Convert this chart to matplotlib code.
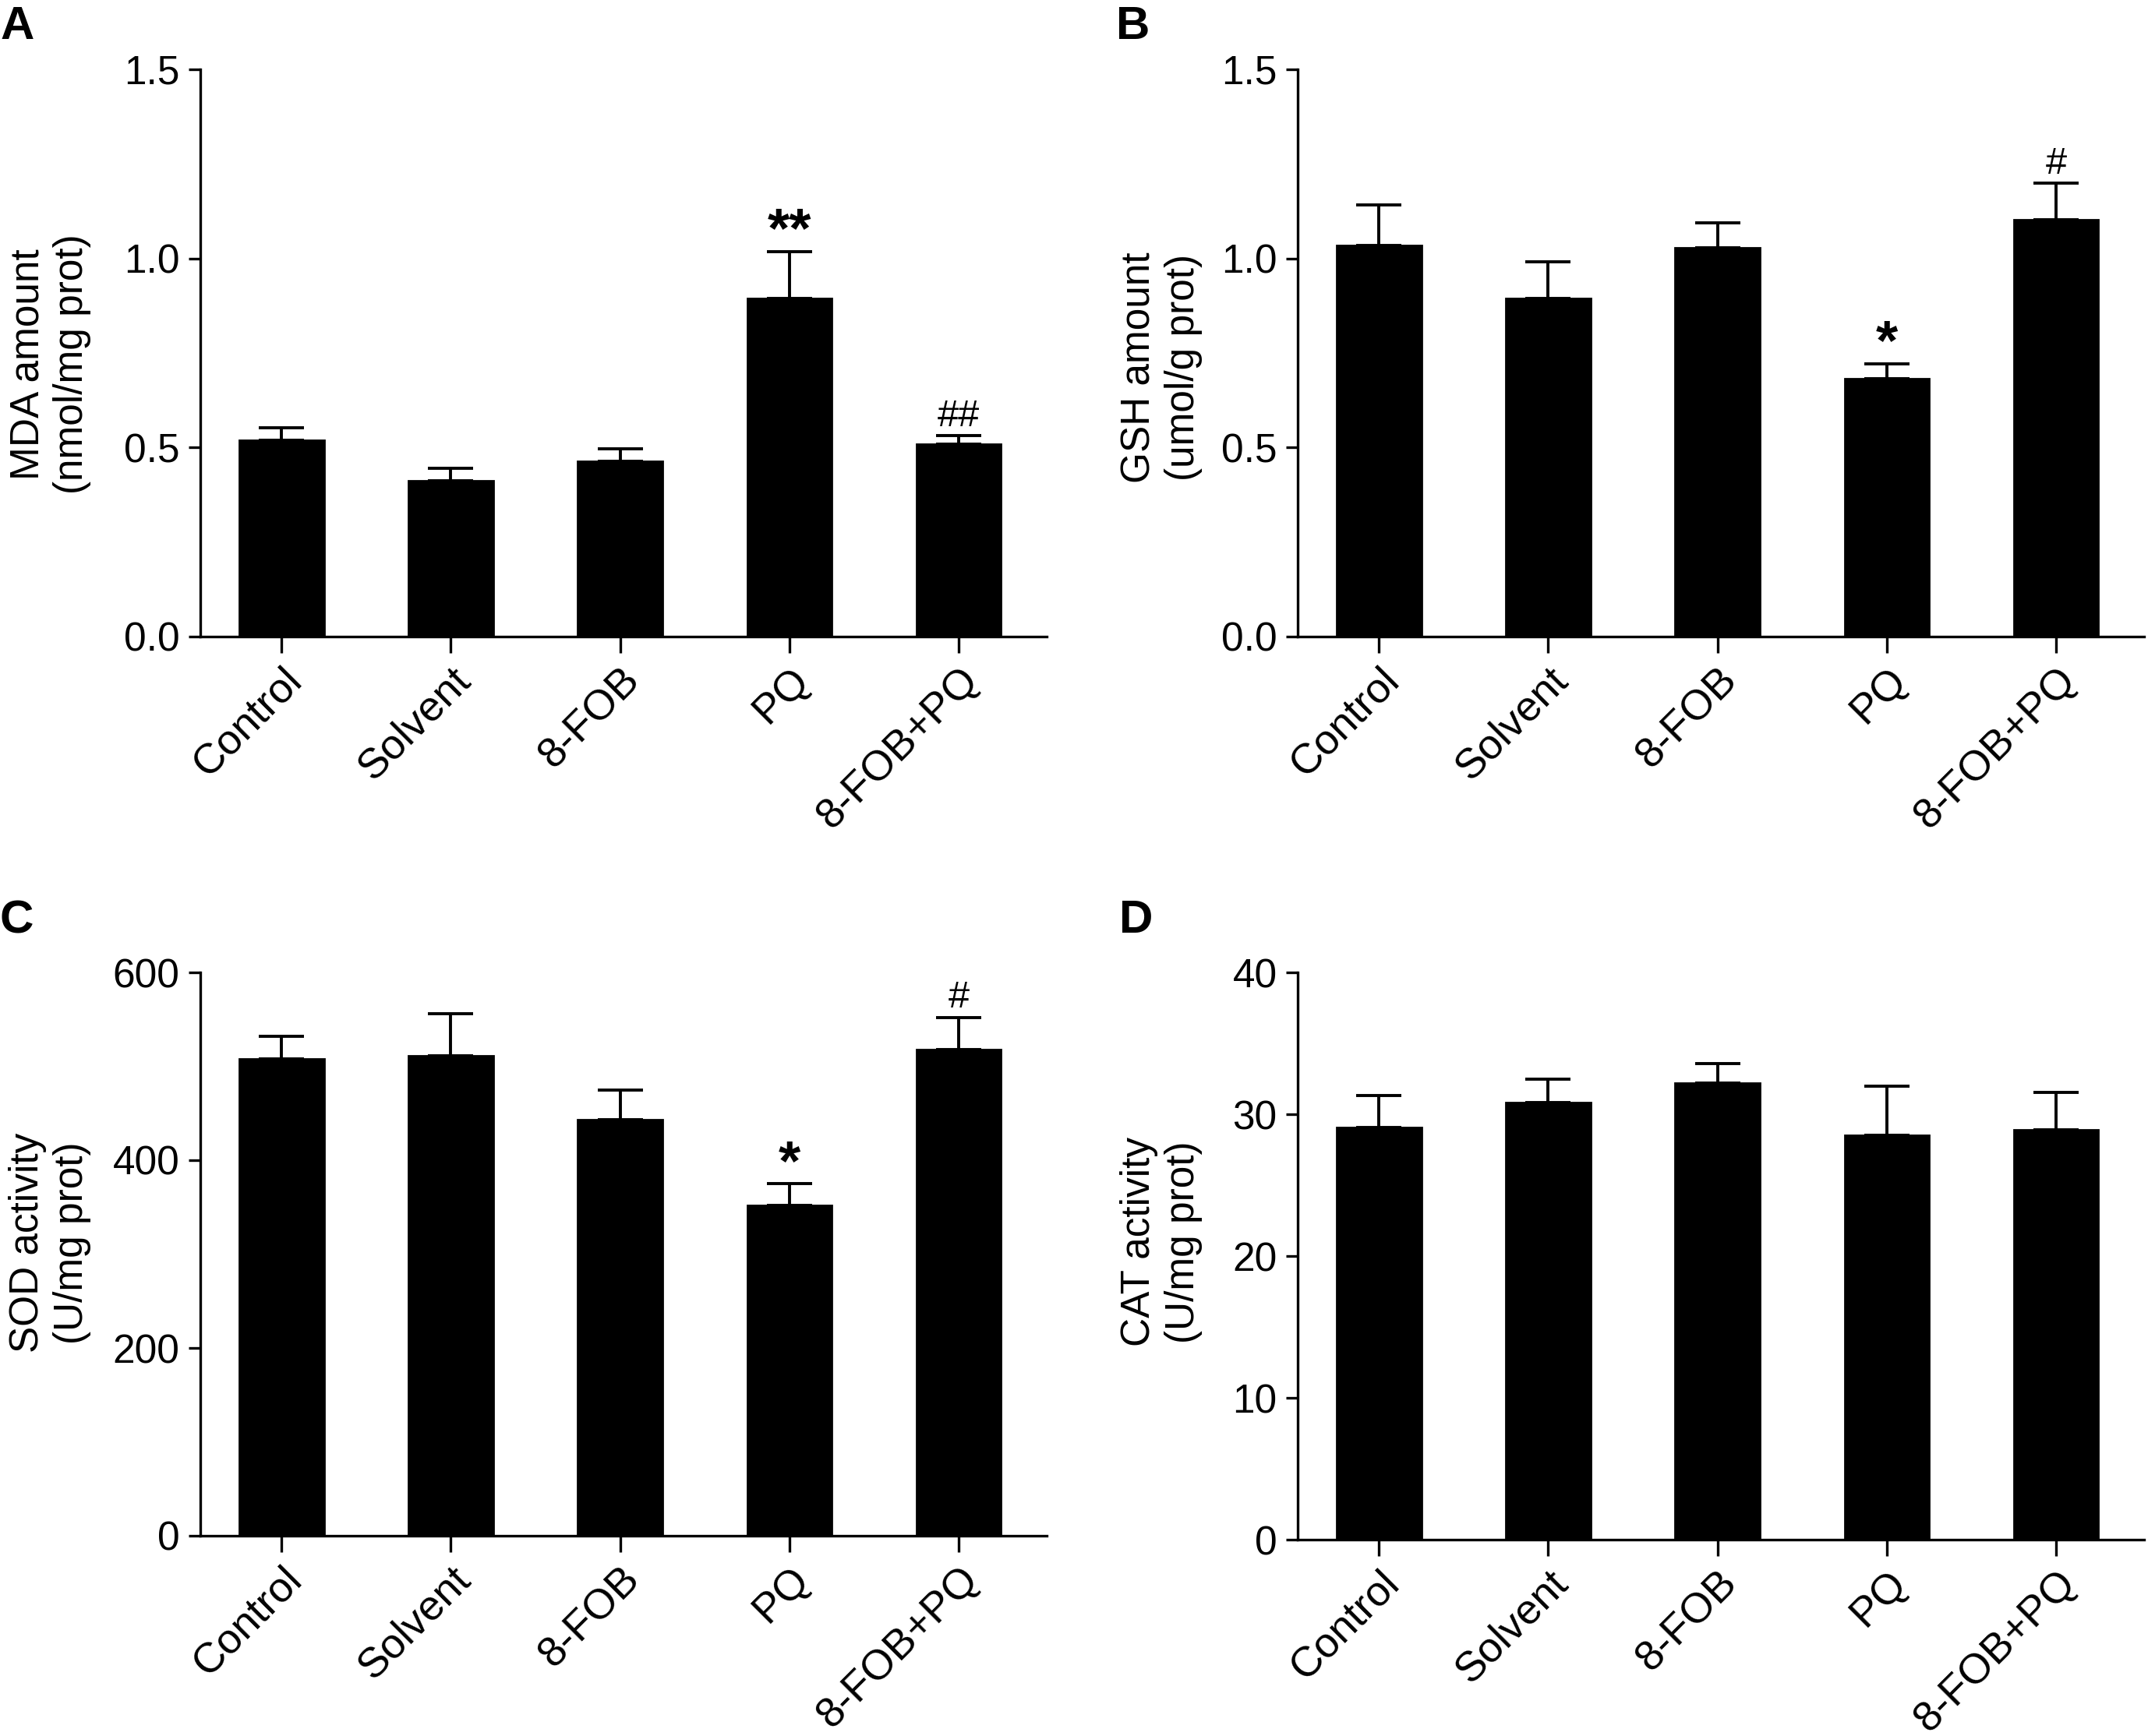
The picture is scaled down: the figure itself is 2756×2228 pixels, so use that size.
import matplotlib
matplotlib.use('Agg')
import matplotlib.pyplot as plt
from matplotlib.transforms import ScaledTranslation

plt.rcParams['font.family'] = ['Liberation Sans', 'DejaVu Sans']

groups = ['Control', 'Solvent', '8-FOB', 'PQ', '8-FOB+PQ']

mda_mean = [0.519, 0.412, 0.463, 0.894, 0.509]
mda_err = [0.034, 0.034, 0.033, 0.124, 0.022]
mda_marks = ['', '', '', '**', '##']
mda_ticks = [0.0, 0.5, 1.0, 1.5]
mda_ticklabels = ['0.0', '0.5', '1.0', '1.5']

gsh_mean = [1.034, 0.894, 1.028, 0.681, 1.103]
gsh_err = [0.107, 0.097, 0.066, 0.040, 0.096]
gsh_marks = ['', '', '', '*', '#']
gsh_ticks = [0.0, 0.5, 1.0, 1.5]
gsh_ticklabels = ['0.0', '0.5', '1.0', '1.5']

sod_mean = [508, 511, 443, 352, 518]
sod_err = [24, 45, 32, 23, 34]
sod_marks = ['', '', '', '*', '#']
sod_ticks = [0, 200, 400, 600]
sod_ticklabels = ['0', '200', '400', '600']

cat_mean = [29.05, 30.8, 32.2, 28.5, 28.9]
cat_err = [2.25, 1.7, 1.35, 3.5, 2.65]
cat_marks = ['', '', '', '', '']
cat_ticks = [0, 10, 20, 30, 40]
cat_ticklabels = ['0', '10', '20', '30', '40']

W, H = 2756, 2228
DPI = 200
fig = plt.figure(figsize=(W / DPI, H / DPI), dpi=DPI)


def px_rect(left, top, right, bottom):
    return [left / W, 1 - bottom / H, (right - left) / W, (bottom - top) / H]


panels = [
    dict(rect=px_rect(257, 89, 1343, 817), mean=mda_mean, err=mda_err, marks=mda_marks,
         ticks=mda_ticks, ticklabels=mda_ticklabels,
         ylabel='MDA amount\n(nmol/mg prot)', lab=(-0.1289, 0.48)),
    dict(rect=px_rect(1665, 89, 2751, 817), mean=gsh_mean, err=gsh_err, marks=gsh_marks,
         ticks=gsh_ticks, ticklabels=gsh_ticklabels,
         ylabel='GSH amount\n(umol/g prot)', lab=(-0.1123, 0.475)),
    dict(rect=px_rect(257, 1248, 1343, 1971), mean=sod_mean, err=sod_err, marks=sod_marks,
         ticks=sod_ticks, ticklabels=sod_ticklabels,
         ylabel='SOD activity\n(U/mg prot)', lab=(-0.1289, 0.52)),
    dict(rect=px_rect(1665, 1248, 2751, 1976), mean=cat_mean, err=cat_err, marks=cat_marks,
         ticks=cat_ticks, ticklabels=cat_ticklabels,
         ylabel='CAT activity\n(U/mg prot)', lab=(-0.1123, 0.525)),
]

LW = 1.2
x = list(range(len(groups)))

for p in panels:
    ax = fig.add_axes(p['rect'])
    lower = [0] * len(groups)
    ax.errorbar(x, p['mean'], yerr=[lower, p['err']], fmt='none', ecolor='black',
                elinewidth=1.4, capsize=10.5, capthick=1.4, zorder=2)
    ax.bar(x, p['mean'], width=0.5, color='black', edgecolor='black', zorder=3)
    for i, m in enumerate(p['marks']):
        if not m:
            continue
        top = p['mean'][i] + p['err'][i]
        if '*' in m:
            ax.annotate(m, xy=(i, top), xytext=(0, 2), textcoords='offset points',
                        ha='center', va='baseline', fontsize=26, fontweight='bold')
        else:
            ax.annotate(m, xy=(i, top), xytext=(0, 4.5), textcoords='offset points',
                        ha='center', va='baseline', fontsize=17.5)
    ax.set_xlim(-0.48, 4.52)
    ax.set_ylim(p['ticks'][0], p['ticks'][-1])
    ax.set_yticks(p['ticks'])
    ax.set_yticklabels(p['ticklabels'], fontsize=18.5)
    ax.set_xticks(x)
    ax.set_xticklabels(groups, fontsize=19.5, rotation=45, ha='right', va='top',
                       rotation_mode='anchor')
    off = ScaledTranslation(34 / DPI, 0, fig.dpi_scale_trans)
    for lbl in ax.get_xticklabels():
        lbl.set_transform(lbl.get_transform() + off)
    ax.spines['top'].set_visible(False)
    ax.spines['right'].set_visible(False)
    ax.spines['left'].set_linewidth(LW)
    ax.spines['bottom'].set_linewidth(LW)
    ax.tick_params(axis='y', direction='out', length=5.5, width=LW, pad=4)
    ax.tick_params(axis='x', direction='out', length=7.5, width=LW, pad=3.5)
    ax.set_ylabel(p['ylabel'], fontsize=18.5)
    ax.yaxis.set_label_coords(*p['lab'])
    ax.patch.set_alpha(0)

fig.text(0.0, 1 - 50 / H, 'A', fontsize=21.6, fontweight='bold', ha='left', va='baseline')
fig.text(1432 / W, 1 - 50 / H, 'B', fontsize=21.6, fontweight='bold', ha='left', va='baseline')
fig.text(0.0, 1 - 1197 / H, 'C', fontsize=21.6, fontweight='bold', ha='left', va='baseline')
fig.text(1436 / W, 1 - 1197 / H, 'D', fontsize=21.6, fontweight='bold', ha='left', va='baseline')

fig.savefig('out.png', dpi=DPI, facecolor='white')
